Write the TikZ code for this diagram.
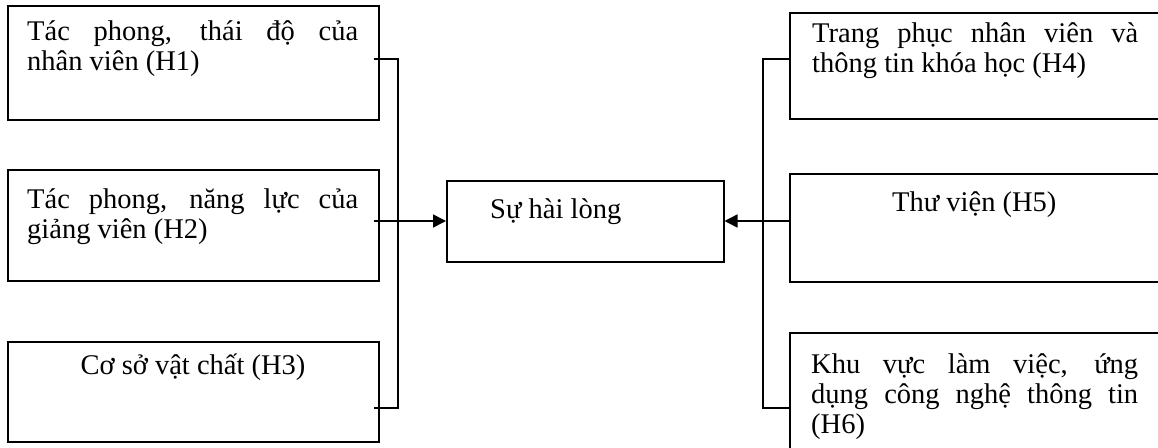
\documentclass[tikz,border=0pt]{standalone}
\usepackage{fontspec}
\setmainfont{Liberation Serif}
\usetikzlibrary{arrows.meta}
\newcommand{\bodyfont}{\fontsize{28.5}{30}\selectfont}
\begin{document}
\begin{tikzpicture}[x=1pt,y=-1pt,
  box/.style={draw, line width=1.5pt, inner sep=0pt, anchor=north west},
  txt/.style={inner sep=0pt, font=\bodyfont},
  conn/.style={line width=1.5pt},
  arr/.style={line width=1.5pt, -{Triangle[length=13pt,width=13pt]}}]
\clip (0,0) rectangle (1158,447);
% left boxes
\node[box, minimum width=371pt, minimum height=114pt] (h1) at (7,5) {};
\node[box, minimum width=371pt, minimum height=111pt] (h2) at (7,169) {};
\node[box, minimum width=371pt, minimum height=100pt] (h3) at (7,341) {};
% centre box
\node[box, minimum width=277pt, minimum height=81pt] (c) at (446,180) {};
% right boxes
\node[box, minimum width=400pt, minimum height=106pt] (h4) at (789,12) {};
\node[box, minimum width=400pt, minimum height=108pt] (h5) at (789,173) {};
\node[box, minimum width=400pt, minimum height=130pt] (h6) at (789,332) {};
% texts
\node[txt, anchor=base west] (t1) at (27,40) {\parbox[t]{331pt}{\bodyfont Tác phong, thái độ của\linebreak nhân viên (H1)}};
\node[txt, anchor=base west] (t2) at (27,208) {\parbox[t]{331pt}{\bodyfont Tác phong, năng lực của\linebreak giảng viên (H2)}};
\node[txt, anchor=base] (t3) at (193,374) {Cơ sở vật chất (H3)};
\node[txt, anchor=base west] (tc) at (490,218) {Sự hài lòng};
\node[txt, anchor=base west] (t4) at (812,42) {\parbox[t]{326pt}{\bodyfont Trang phục nhân viên và\linebreak thông tin khóa học (H4)}};
\node[txt, anchor=base west] (t5) at (892,211) {Thư viện (H5)};
\node[txt, anchor=base west] (t6) at (811,373) {\parbox[t]{327pt}{\bodyfont Khu vực làm việc, ứng\linebreak dụng công nghệ thông tin\linebreak (H6)}};
% left bracket
\coordinate (l1) at (398,59);
\coordinate (l2) at (398,221);
\coordinate (l3) at (398,408);
\draw[conn] ([xshift=-6pt]h1.east |- l1) -- (l1) -- (l3) -- ([xshift=-6pt]h3.east |- l3);
\draw[arr] ([xshift=-6pt]h2.east |- l2) -- (c.west |- l2);
% right bracket
\coordinate (r1) at (763,59);
\coordinate (r2) at (763,221);
\coordinate (r3) at (763,408);
\draw[conn] (h4.west |- r1) -- (r1) -- (r3) -- (h6.west |- r3);
\draw[arr] (h5.west |- r2) -- (c.east |- r2);
\end{tikzpicture}
\end{document}
